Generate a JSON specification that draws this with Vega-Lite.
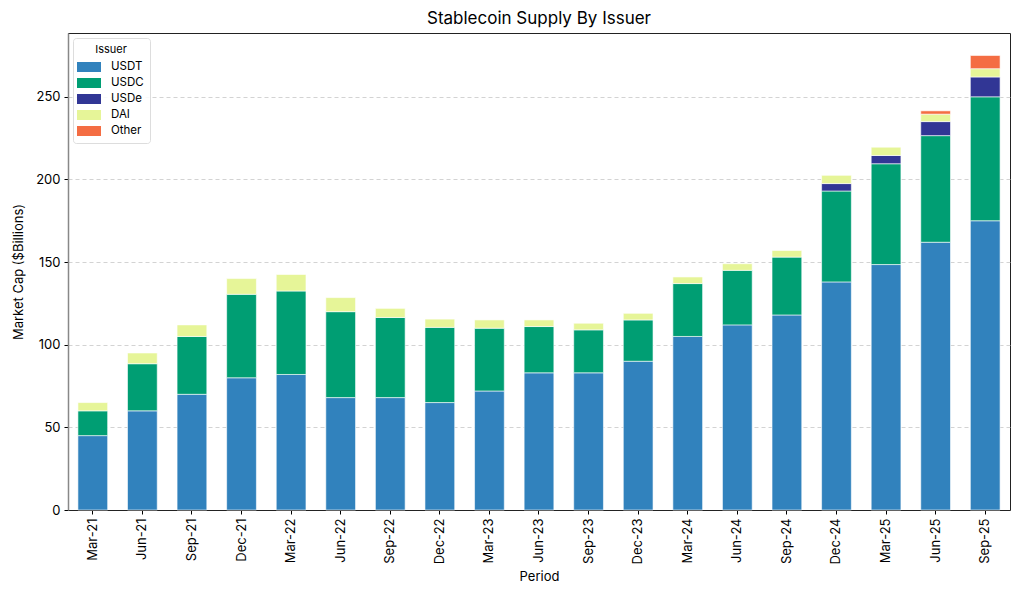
{
  "$schema": "https://vega.github.io/schema/vega-lite/v6.json",
  "width": 942,
  "height": 477,
  "autosize": {"type": "none"},
  "padding": {"left": 68, "top": 33, "right": 14, "bottom": 87},
  "background": "white",
  "config": {
    "font": "Inter",
    "view": {"stroke": "#222", "strokeWidth": 1}
  },
  "title": {"text": "Stablecoin Supply By Issuer", "fontSize": 17, "fontWeight": "normal", "color": "#000", "offset": 5, "anchor": "middle"},
  "data": {
    "values": [
      {"period": "Mar-21", "issuer": "USDT", "value": 45},
      {"period": "Mar-21", "issuer": "USDC", "value": 15},
      {"period": "Mar-21", "issuer": "DAI", "value": 5},
      {"period": "Jun-21", "issuer": "USDT", "value": 60},
      {"period": "Jun-21", "issuer": "USDC", "value": 28.5},
      {"period": "Jun-21", "issuer": "DAI", "value": 6.5},
      {"period": "Sep-21", "issuer": "USDT", "value": 70},
      {"period": "Sep-21", "issuer": "USDC", "value": 35},
      {"period": "Sep-21", "issuer": "DAI", "value": 7},
      {"period": "Dec-21", "issuer": "USDT", "value": 80},
      {"period": "Dec-21", "issuer": "USDC", "value": 50.5},
      {"period": "Dec-21", "issuer": "DAI", "value": 9.5},
      {"period": "Mar-22", "issuer": "USDT", "value": 82},
      {"period": "Mar-22", "issuer": "USDC", "value": 50.5},
      {"period": "Mar-22", "issuer": "DAI", "value": 10},
      {"period": "Jun-22", "issuer": "USDT", "value": 68},
      {"period": "Jun-22", "issuer": "USDC", "value": 52},
      {"period": "Jun-22", "issuer": "DAI", "value": 8.5},
      {"period": "Sep-22", "issuer": "USDT", "value": 68},
      {"period": "Sep-22", "issuer": "USDC", "value": 48.5},
      {"period": "Sep-22", "issuer": "DAI", "value": 5.5},
      {"period": "Dec-22", "issuer": "USDT", "value": 65},
      {"period": "Dec-22", "issuer": "USDC", "value": 45.5},
      {"period": "Dec-22", "issuer": "DAI", "value": 5},
      {"period": "Mar-23", "issuer": "USDT", "value": 72},
      {"period": "Mar-23", "issuer": "USDC", "value": 38},
      {"period": "Mar-23", "issuer": "DAI", "value": 5},
      {"period": "Jun-23", "issuer": "USDT", "value": 83},
      {"period": "Jun-23", "issuer": "USDC", "value": 28},
      {"period": "Jun-23", "issuer": "DAI", "value": 4},
      {"period": "Sep-23", "issuer": "USDT", "value": 83},
      {"period": "Sep-23", "issuer": "USDC", "value": 26},
      {"period": "Sep-23", "issuer": "DAI", "value": 4},
      {"period": "Dec-23", "issuer": "USDT", "value": 90},
      {"period": "Dec-23", "issuer": "USDC", "value": 25},
      {"period": "Dec-23", "issuer": "DAI", "value": 4},
      {"period": "Mar-24", "issuer": "USDT", "value": 105},
      {"period": "Mar-24", "issuer": "USDC", "value": 32},
      {"period": "Mar-24", "issuer": "DAI", "value": 4},
      {"period": "Jun-24", "issuer": "USDT", "value": 112},
      {"period": "Jun-24", "issuer": "USDC", "value": 33},
      {"period": "Jun-24", "issuer": "DAI", "value": 4},
      {"period": "Sep-24", "issuer": "USDT", "value": 118},
      {"period": "Sep-24", "issuer": "USDC", "value": 35},
      {"period": "Sep-24", "issuer": "DAI", "value": 4},
      {"period": "Dec-24", "issuer": "USDT", "value": 138},
      {"period": "Dec-24", "issuer": "USDC", "value": 55},
      {"period": "Dec-24", "issuer": "USDe", "value": 4.5},
      {"period": "Dec-24", "issuer": "DAI", "value": 5},
      {"period": "Mar-25", "issuer": "USDT", "value": 148.5},
      {"period": "Mar-25", "issuer": "USDC", "value": 61},
      {"period": "Mar-25", "issuer": "USDe", "value": 5},
      {"period": "Mar-25", "issuer": "DAI", "value": 5},
      {"period": "Jun-25", "issuer": "USDT", "value": 162},
      {"period": "Jun-25", "issuer": "USDC", "value": 64.5},
      {"period": "Jun-25", "issuer": "USDe", "value": 8.5},
      {"period": "Jun-25", "issuer": "DAI", "value": 4.5},
      {"period": "Jun-25", "issuer": "Other", "value": 2},
      {"period": "Sep-25", "issuer": "USDT", "value": 175},
      {"period": "Sep-25", "issuer": "USDC", "value": 75},
      {"period": "Sep-25", "issuer": "USDe", "value": 12},
      {"period": "Sep-25", "issuer": "DAI", "value": 5},
      {"period": "Sep-25", "issuer": "Other", "value": 8}
    ]
  },
  "transform": [
    {"calculate": "indexof(['USDT','USDC','USDe','DAI','Other'], datum.issuer)", "as": "stackOrder"}
  ],
  "mark": {"type": "bar", "stroke": "white", "strokeWidth": 0.6},
  "encoding": {
    "x": {
      "field": "period",
      "type": "nominal",
      "sort": null,
      "scale": {"paddingInner": 0.4, "paddingOuter": 0.2},
      "axis": {
        "title": "Period",
        "titleFontSize": 13,
        "titleFontWeight": "normal",
        "titleColor": "#000",
        "titlePadding": 6,
        "labelAngle": -90,
        "labelFontSize": 13,
        "labelColor": "#000",
        "labelPadding": 4,
        "tickColor": "#000",
        "tickSize": 4,
        "domainColor": "#222",
        "grid": false
      }
    },
    "y": {
      "field": "value",
      "type": "quantitative",
      "stack": "zero",
      "scale": {"domain": [0, 288.6], "nice": false, "zero": true},
      "axis": {
        "title": "Market Cap ($Billions)",
        "titleFontSize": 13,
        "titleFontWeight": "normal",
        "titleColor": "#000",
        "titlePadding": 10,
        "values": [0, 50, 100, 150, 200, 250],
        "labelFontSize": 13,
        "labelColor": "#000",
        "labelPadding": 4,
        "tickColor": "#000",
        "tickSize": 4,
        "domainColor": "#888",
        "domainWidth": 1.5,
        "grid": true,
        "gridColor": "#c8c8c8",
        "gridDash": [4, 3],
        "gridWidth": 0.8
      }
    },
    "order": {"field": "stackOrder", "type": "quantitative", "sort": "ascending"},
    "color": {
      "field": "issuer",
      "type": "nominal",
      "sort": ["USDT", "USDC", "USDe", "DAI", "Other"],
      "scale": {
        "domain": ["USDT", "USDC", "USDe", "DAI", "Other"],
        "range": ["#3182bd", "#009e73", "#313695", "#e6f598", "#f46d43"]
      },
      "legend": {
        "title": "Issuer",
        "orient": "top-left",
        "offset": 5,
        "titleFontSize": 11,
        "titleFontWeight": "normal",
        "titleColor": "#000",
        "titleAnchor": "middle",
        "titlePadding": 2,
        "labelFontSize": 11.5,
        "labelColor": "#000",
        "symbolType": "M-1.2,-0.5H1.2V0.5H-1.2Z",
        "symbolSize": 400,
        "symbolStrokeWidth": 0,
        "symbolOpacity": 1,
        "labelOffset": 12,
        "rowPadding": -2,
        "padding": 6,
        "fillColor": "rgba(255,255,255,0.85)",
        "strokeColor": "#ddd",
        "cornerRadius": 3
      }
    }
  }
}
